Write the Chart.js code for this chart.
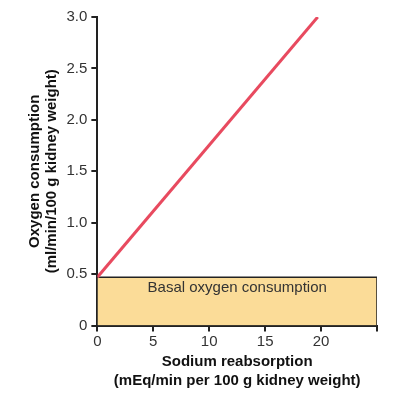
<!DOCTYPE html>
<html>
<head>
<meta charset="utf-8">
<script src="https://cdn.jsdelivr.net/npm/chart.js@4"></script>
<style>
  html, body { margin: 0; padding: 0; background: #fff; }
  #wrap { width: 408px; height: 393px; }
</style>
</head>
<body>
<div id="wrap"><canvas id="grafico" width="408" height="393"></canvas></div>
<script>
// Datos
const sodioX = [0, 19.7];
const oxigenoY = [0.47, 3.0];
const basalNivel = 0.47;
const xMax = 25;
const yTicks = [0, 0.5, 1.0, 1.5, 2.0, 2.5, 3.0];
const xTickLabels = ["0", "5", "10", "15", "20", ""];
const basalTexto = "Basal oxygen consumption";
const tituloY = ["Oxygen consumption", "(ml/min/100 g kidney weight)"];
const tituloX = ["Sodium reabsorption", "(mEq/min per 100 g kidney weight)"];

const ejeColor = "#222";
const textoColor = "#333";

// Texto dentro del rectangulo basal
const etiquetaBasal = {
    id: "etiquetaBasal",
    afterDatasetsDraw(chart) {
        const { ctx, scales: { x, y } } = chart;
        const cx = (x.getPixelForValue(0) + x.getPixelForValue(xMax)) / 2;
        const cy = y.getPixelForValue(basalNivel) + 11;
        ctx.save();
        ctx.fillStyle = textoColor;
        ctx.font = "15px 'Liberation Sans', Arial, sans-serif";
        ctx.textAlign = "center";
        ctx.textBaseline = "middle";
        ctx.fillText(basalTexto, cx, cy);
        ctx.restore();
    }
};

const ctx = document.getElementById("grafico").getContext("2d");
new Chart(ctx, {
    type: "line",
    data: {
        datasets: [
            {
                data: sodioX.map((v, i) => ({ x: v, y: oxigenoY[i] })),
                borderColor: "#e84a5f",
                borderWidth: 3,
                pointRadius: 0,
                fill: false,
                order: 0
            },
            {
                data: [
                    { x: 0, y: basalNivel },
                    { x: xMax, y: basalNivel },
                    { x: xMax, y: 0 }
                ],
                borderColor: ejeColor,
                borderWidth: 1.5,
                backgroundColor: "#fbdc98",
                pointRadius: 0,
                fill: "origin",
                order: 1
            }
        ]
    },
    options: {
        responsive: false,
        animation: false,
        layout: { padding: { top: 17, right: 31, left: 22, bottom: -1 } },
        plugins: { legend: { display: false }, tooltip: { enabled: false } },
        scales: {
            x: {
                type: "linear",
                min: 0,
                max: xMax,
                border: { display: true, color: ejeColor, width: 2 },
                grid: { display: true, drawOnChartArea: false, drawTicks: true, tickLength: 6, color: ejeColor, lineWidth: 2 },
                ticks: {
                    stepSize: 5,
                    color: textoColor,
                    font: { family: "'Liberation Sans', Arial, sans-serif", size: 15 },
                    padding: 1,
                    maxRotation: 0,
                    callback: (v, i) => xTickLabels[i]
                },
                title: {
                    display: true,
                    text: tituloX,
                    color: "#111",
                    font: { family: "'Liberation Sans', Arial, sans-serif", size: 15, weight: "bold", lineHeight: 1.25 },
                    padding: { top: 1 }
                }
            },
            y: {
                type: "linear",
                min: 0,
                max: 3,
                afterBuildTicks: (eje) => { eje.ticks = yTicks.map(v => ({ value: v })); },
                border: { display: true, color: ejeColor, width: 2 },
                grid: { display: true, drawOnChartArea: false, drawTicks: true, tickLength: 6, color: ejeColor, lineWidth: 2 },
                ticks: {
                    color: textoColor,
                    font: { family: "'Liberation Sans', Arial, sans-serif", size: 15 },
                    padding: 4,
                    callback: (v) => v === 0 ? "0" : v.toFixed(1)
                },
                title: {
                    display: true,
                    text: tituloY,
                    color: "#111",
                    font: { family: "'Liberation Sans', Arial, sans-serif", size: 15, weight: "bold", lineHeight: 1.15 },
                    padding: { bottom: 2 }
                }
            }
        }
    },
    plugins: [etiquetaBasal]
});
</script>
</body>
</html>
